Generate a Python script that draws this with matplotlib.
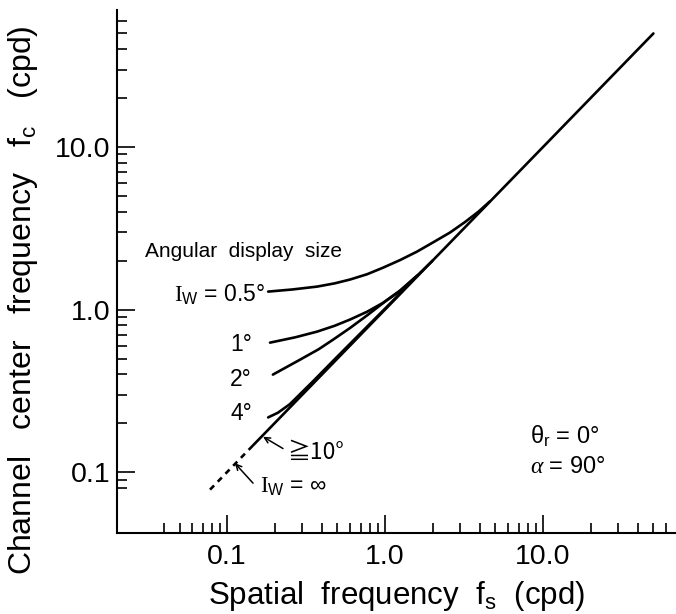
import matplotlib
matplotlib.use('Agg')
from matplotlib import pyplot as plt
from matplotlib.ticker import FixedLocator, NullFormatter

# curves: spatial frequency fs -> channel frequency fc (cpd)
fs_05 = [0.182, 0.26, 0.372, 0.48, 0.600, 0.77, 0.971, 1.25, 1.59, 2.0, 2.58, 3.2, 3.9, 4.6]
fc_05 = [1.29, 1.33, 1.385, 1.45, 1.53, 1.65, 1.81, 2.02, 2.27, 2.58, 2.98, 3.45, 4.0, 4.62]
fs_1 = [0.187, 0.27, 0.372, 0.48, 0.600, 0.77, 0.971, 1.245, 1.6, 2.0]
fc_1 = [0.626, 0.675, 0.732, 0.795, 0.868, 0.97, 1.10, 1.31, 1.62, 2.0]
fs_2 = [0.195, 0.290, 0.38, 0.469, 0.6, 0.769, 1.0, 1.245, 1.6]
fc_2 = [0.398, 0.492, 0.57, 0.653, 0.77, 0.92, 1.12, 1.30, 1.62]
fs_4 = [0.182, 0.21, 0.25, 0.35, 0.5, 0.8, 1.3]
fc_4 = [0.217, 0.232, 0.262, 0.362, 0.515, 0.815, 1.31]
fs_10 = [0.146, 50.0]
fc_10 = [0.146, 50.0]
fs_inf = [0.078, 0.146]
fc_inf = [0.078, 0.146]

major_ticks = [0.1, 1.0, 10.0]
major_labels = ['0.1', '1.0', '10.0']

plt.rcParams['font.family'] = ['Liberation Sans', 'DejaVu Sans']
plt.rcParams['mathtext.fontset'] = 'custom'
plt.rcParams['mathtext.rm'] = 'Liberation Serif'
plt.rcParams['mathtext.sf'] = 'Liberation Sans'
plt.rcParams['mathtext.it'] = 'Liberation Serif:italic'

fig = plt.figure(figsize=(6.76, 6.14), dpi=100)
ax = fig.add_axes([117 / 676, 81 / 614, 559 / 676, 523 / 614])
ax.set_xscale('log')
ax.set_yscale('log')
ax.set_xlim(0.0201, 69.5)
ax.set_ylim(0.0422, 69.7)

lw = 1.9
for fs, fc in [(fs_05, fc_05), (fs_1, fc_1), (fs_2, fc_2), (fs_4, fc_4), (fs_10, fc_10)]:
    ax.plot(fs, fc, color='black', lw=lw, solid_capstyle='round', solid_joinstyle='round')
ax.plot(fs_inf, fc_inf, color='black', lw=lw, ls=(0, (2.2, 2.0)))

for s in ['top', 'right']:
    ax.spines[s].set_visible(False)
for s in ['left', 'bottom']:
    ax.spines[s].set_linewidth(1.5)

xminor = [m * d for d in [0.01, 0.1, 1, 10] for m in range(2, 10) if 0.035 < m * d < 65]
yminor = [m * d for d in [0.01, 0.1, 1, 10] for m in range(2, 10) if 0.075 < m * d < 65]
ax.xaxis.set_major_locator(FixedLocator(major_ticks))
ax.yaxis.set_major_locator(FixedLocator(major_ticks))
ax.xaxis.set_minor_locator(FixedLocator(xminor))
ax.yaxis.set_minor_locator(FixedLocator(yminor))
ax.xaxis.set_minor_formatter(NullFormatter())
ax.yaxis.set_minor_formatter(NullFormatter())
ax.set_xticklabels(major_labels)
ax.set_yticklabels(major_labels)
ax.tick_params(which='major', direction='in', length=13, width=1.2, labelsize=20.5)
ax.tick_params(axis='x', which='major', pad=8)
ax.tick_params(axis='y', which='major', pad=5)
ax.tick_params(which='minor', direction='in', length=7.5, width=1.2)

ax.set_xlabel(r'Spatial  frequency  $\mathsf{f_s}$  (cpd)', fontsize=22.5, va='top')
ax.xaxis.set_label_coords(0.5, -0.088)
ax.set_ylabel(r'Channel   center   frequency   $\mathsf{f_c}$   (cpd)', fontsize=23, va='center')
ax.yaxis.set_label_coords(-0.168, 0.445)

fs_txt = 15
ax.text(0.0303, 2.27, 'Angular  display  size', fontsize=fs_txt, ha='left', va='center')
ax.text(0.174, 1.24, r'$\mathrm{I}_{\mathsf{W}}$ = 0.5°', fontsize=fs_txt + 1.5, ha='right', va='center')
ax.text(0.144, 0.609, '1°', fontsize=fs_txt + 1.5, ha='right', va='center')
ax.text(0.144, 0.371, '2°', fontsize=fs_txt + 1.5, ha='right', va='center')
ax.text(0.144, 0.229, '4°', fontsize=fs_txt + 1.5, ha='right', va='center')
ax.text(0.24, 0.132, '≧10°', fontsize=fs_txt + 1.5, ha='left', va='center',
        family=['Noto Sans CJK JP', 'DejaVu Sans'])
ax.text(0.162, 0.081, r'$\mathrm{I}_{\mathsf{W}}$ = ∞', fontsize=fs_txt + 1.5, ha='left', va='center')
ax.text(8.28, 0.165, r'θ$_{\mathsf{r}}$ = 0°', fontsize=fs_txt + 2, ha='left', va='center')
ax.text(8.28, 0.108, r'$\alpha$ = 90°', fontsize=fs_txt + 2, ha='left', va='center')

arrow = dict(arrowstyle='->', color='black', lw=1.1, shrinkA=0, shrinkB=0)
ax.annotate('', xy=(0.169, 0.165), xytext=(0.226, 0.1396), arrowprops=arrow)
ax.annotate('', xy=(0.112, 0.1135), xytext=(0.146, 0.0855), arrowprops=arrow)

fig.savefig('out.png', dpi=100)
